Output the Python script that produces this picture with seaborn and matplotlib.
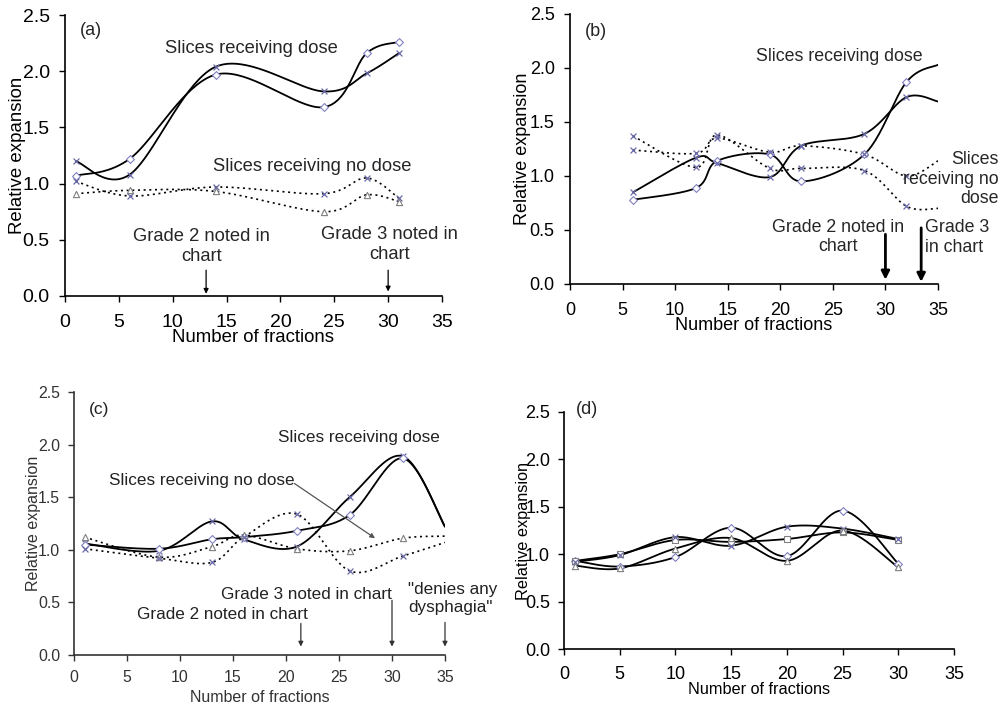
import numpy as np
import pandas as pd
import matplotlib
matplotlib.use("Agg")
import matplotlib.pyplot as plt
import seaborn as sns

sns.set_theme(style="white")
plt.rcParams['font.family'] = ['Liberation Sans', 'DejaVu Sans']

# ---------------- data ----------------
# Panel (a)
a_x = [1, 6, 14, 24, 28, 31]
a_dose_diamond = [1.07, 1.22, 1.97, 1.68, 2.16, 2.26]
a_dose_cross = [1.20, 1.08, 2.04, 1.82, 1.98, 2.16]
a_nodose_cross = [1.02, 0.89, 0.97, 0.91, 1.05, 0.87]
a_nodose_tri = [0.91, 0.94, 0.93, 0.75, 0.90, 0.84]

# Panel (b)
b_x = [6, 12, 14, 19, 22, 28, 32, 35]
b_dose_diamond = [0.78, 0.89, 1.14, 1.20, 0.95, 1.20, 1.87, 2.03]
b_dose_cross = [0.85, 1.17, 1.12, 0.99, 1.28, 1.39, 1.73, 1.69]
b_nodose_a = [1.37, 1.08, 1.38, 1.07, 1.07, 1.05, 0.72, 0.70]
b_nodose_b = [1.24, 1.21, 1.35, 1.22, 1.28, 1.20, 1.00, 1.14]

# Panel (c)
c_x = [1, 8, 13, 16, 21, 26, 31, 35]
c_dose_cross = [1.06, 0.99, 1.27, 1.10, 1.03, 1.50, 1.89, 1.22]
c_dose_diamond = [1.05, 1.01, 1.10, 1.12, 1.18, 1.33, 1.87, 1.22]
c_nodose_tri = [1.12, 0.93, 1.03, 1.14, 1.01, 0.99, 1.11, 1.13]
c_nodose_cross = [1.01, 0.92, 0.88, 1.12, 1.34, 0.80, 0.94, 1.07]

# Panel (d)
d_x = [1, 5, 10, 15, 20, 25, 30]
d_diamond = [0.93, 0.87, 0.97, 1.28, 0.98, 1.46, 0.90]
d_square = [0.93, 1.00, 1.15, 1.13, 1.16, 1.23, 1.15]
d_cross = [0.92, 0.99, 1.18, 1.09, 1.29, 1.27, 1.16]
d_tri = [0.88, 0.85, 1.06, 1.17, 0.93, 1.25, 0.86]

x_ticks = [0, 5, 10, 15, 20, 25, 30, 35]
y_ticks = [0.0, 0.5, 1.0, 1.5, 2.0, 2.5]
y_ticklabels = ["0.0", "0.5", "1.0", "1.5", "2.0", "2.5"]
x_label = "Number of fractions"
y_label = "Relative expansion"


def smooth(x, y, n=40):
    """Excel-like smoothed line (cubic Bezier through the points)."""
    P = np.column_stack([x, y]).astype(float)
    out = []
    for i in range(len(P) - 1):
        p0 = P[i - 1] if i > 0 else P[i]
        p1, p2 = P[i], P[i + 1]
        p3 = P[i + 2] if i + 2 < len(P) else P[i + 1]
        c1 = p1 + (p2 - p0) / 6.0
        c2 = p2 - (p3 - p1) / 6.0
        t = np.linspace(0, 1, n)[:, None]
        b = (1 - t) ** 3 * p1 + 3 * (1 - t) ** 2 * t * c1 + 3 * (1 - t) * t ** 2 * c2 + t ** 3 * p2
        out.append(b if i == 0 else b[1:])
    s = np.vstack(out)
    return pd.DataFrame({"x": s[:, 0], "y": s[:, 1]})


MK = {
    "D": dict(marker="D", s=16, facecolor="white", edgecolor="#8080c0", linewidth=0.8),
    "x": dict(marker="x", s=18, color="#6a6aa8", linewidth=0.9),
    "^": dict(marker="^", s=20, facecolor="white", edgecolor="#808080", linewidth=0.8),
    "s": dict(marker="s", s=16, facecolor="white", edgecolor="#808080", linewidth=0.8),
}


def series(ax, x, y, mk, dotted=False, color="black", lw=1.3):
    df = smooth(x, y)
    ls = (0, (1.2, 2.2)) if dotted else "-"
    sns.lineplot(data=df, x="x", y="y", sort=False, estimator=None, ax=ax,
                 color=color, linewidth=lw if not dotted else 1.2, linestyle=ls)
    pts = pd.DataFrame({"x": x, "y": y})
    pts = pts[pts["x"] < 35]
    sns.scatterplot(data=pts, x="x", y="y", ax=ax, zorder=3, legend=False, **MK[mk])


def style_axes(ax, tick_fs, lab_fs, col="black", xpad=9, ypad=6,
               ylab_x=-0.12, xlab_y=-0.15):
    ax.set_xlim(0, 35)
    ax.set_ylim(0, 2.5)
    ax.set_xticks(x_ticks)
    ax.set_yticks(y_ticks)
    ax.set_yticklabels(y_ticklabels)
    for sp in ["top", "right"]:
        ax.spines[sp].set_visible(False)
    for sp in ["left", "bottom"]:
        ax.spines[sp].set_color(col)
        ax.spines[sp].set_linewidth(1.2)
    ax.tick_params(axis="x", direction="out", length=4, width=1.0, color=col,
                   labelsize=tick_fs, labelcolor=col, pad=xpad, bottom=True)
    ax.tick_params(axis="y", direction="out", length=4, width=1.0, color=col,
                   labelsize=tick_fs, labelcolor=col, pad=ypad, left=True)
    ax.set_xlabel(x_label, fontsize=lab_fs, color=col)
    ax.set_ylabel(y_label, fontsize=lab_fs, color=col)
    ax.xaxis.label.set_va("center")
    ax.yaxis.label.set_va("center")
    ax.xaxis.set_label_coords(0.5, xlab_y)
    ax.yaxis.set_label_coords(ylab_x, 0.5)
    ax.grid(False)
    ax.set_facecolor("white")


W, H = 1000, 705
fig = plt.figure(figsize=(10, 7.05), dpi=100)
fig.patch.set_facecolor("white")


def px_axes(l, t, r, b):
    return fig.add_axes([l / W, 1 - b / H, (r - l) / W, (b - t) / H])


thin = dict(arrowstyle="-|>", color="black", lw=0.9, mutation_scale=7,
            shrinkA=0, shrinkB=0)

# ---------------- (a) ----------------
ax = px_axes(65, 15, 442, 296)
series(ax, a_x, a_dose_diamond, "D")
series(ax, a_x, a_dose_cross, "x")
series(ax, a_x, a_nodose_cross, "x", dotted=True)
series(ax, a_x, a_nodose_tri, "^", dotted=True)
style_axes(ax, 14, 13.4, xpad=9, ypad=7, ylab_x=-0.125, xlab_y=-0.149)
ax.text(2.4, 2.36, "(a)", fontsize=13, ha="center", va="center")
ax.text(17.3, 2.20, "Slices receiving dose", fontsize=13.2, ha="center", va="center")
ax.text(23.0, 1.15, "Slices receiving no dose", fontsize=13.2, ha="center", va="center")
ax.text(12.7, 0.44, "Grade 2 noted in\nchart", fontsize=13.2, ha="center",
        va="center", multialignment="center", linespacing=1.25)
ax.text(30.1, 0.46, "Grade 3 noted in\nchart", fontsize=13.2, ha="center",
        va="center", multialignment="center", linespacing=1.25)
ax.annotate("", xy=(13.1, 0.02), xytext=(13.1, 0.23), arrowprops=thin)
ax.annotate("", xy=(30.0, 0.04), xytext=(30.0, 0.23), arrowprops=thin)

# ---------------- (b) ----------------
ax = px_axes(570, 14, 938, 284)
series(ax, b_x, b_dose_diamond, "D")
series(ax, b_x, b_dose_cross, "x")
series(ax, b_x, b_nodose_a, "x", dotted=True)
series(ax, b_x, b_nodose_b, "x", dotted=True)
style_axes(ax, 13, 13, xpad=9, ypad=7, ylab_x=-0.128, xlab_y=-0.152)
ax.text(2.5, 2.34, "(b)", fontsize=13, ha="center", va="center")
ax.text(25.6, 2.11, "Slices receiving dose", fontsize=12.8, ha="center", va="center")
ax.text(40.8, 0.97, "Slices\nreceiving no\ndose", fontsize=12.8, ha="right",
        va="center", multialignment="right", linespacing=1.2)
ax.text(25.5, 0.435, "Grade 2 noted in\nchart", fontsize=12.8, ha="center",
        va="center", multialignment="center", linespacing=1.2)
ax.text(33.8, 0.43, "Grade 3\nin chart", fontsize=12.8, ha="left",
        va="center", multialignment="left", linespacing=1.2)
thick = dict(arrowstyle="-|>", color="black", lw=2.0, mutation_scale=12,
             shrinkA=0, shrinkB=0)
ax.annotate("", xy=(30.0, 0.04), xytext=(30.0, 0.46), arrowprops=thick)
ax.annotate("", xy=(33.4, 0.02), xytext=(33.4, 0.52), arrowprops=thick)

# ---------------- (c) ----------------
gcol = "#333333"
ax = px_axes(74, 392, 445, 655)
series(ax, c_x, c_dose_cross, "x")
series(ax, c_x, c_dose_diamond, "D")
series(ax, c_x, c_nodose_tri, "^", dotted=True)
series(ax, c_x, c_nodose_cross, "x", dotted=True)
style_axes(ax, 11.4, 11.5, col=gcol, xpad=7, ypad=6, ylab_x=-0.11, xlab_y=-0.16)
ax.text(2.4, 2.33, "(c)", fontsize=12.5, ha="center", va="center", color="#222222")
ax.text(26.9, 2.07, "Slices receiving dose", fontsize=12.3, ha="center",
        va="center", color="#222222")
ax.text(12.1, 1.66, "Slices receiving no dose", fontsize=12.3, ha="center",
        va="center", color="#222222")
ax.annotate("", xy=(28.4, 1.11), xytext=(20.8, 1.63),
            arrowprops=dict(arrowstyle="-|>", color="#555555", lw=0.9,
                            mutation_scale=7, shrinkA=0, shrinkB=0))
ax.text(21.9, 0.575, "Grade 3 noted in chart", fontsize=12.3, ha="center",
        va="center", color="#222222")
ax.text(14.0, 0.385, "Grade 2 noted in chart", fontsize=12.3, ha="center",
        va="center", color="#222222")
ax.text(31.5, 0.537, "\"denies any\ndysphagia\"", fontsize=12.3, ha="left",
        va="center", multialignment="left", linespacing=1.25, color="#222222")
gthin = dict(arrowstyle="-|>", color="#333333", lw=0.9, mutation_scale=7,
             shrinkA=0, shrinkB=0)
ax.annotate("", xy=(21.4, 0.08), xytext=(21.4, 0.30), arrowprops=gthin)
ax.annotate("", xy=(30.0, 0.08), xytext=(30.0, 0.52), arrowprops=gthin)
ax.annotate("", xy=(35.0, 0.08), xytext=(35.0, 0.31), arrowprops=gthin)

# ---------------- (d) ----------------
ax = px_axes(564, 412, 954, 649)
series(ax, d_x, d_diamond, "D")
series(ax, d_x, d_square, "s")
series(ax, d_x, d_cross, "x")
series(ax, d_x, d_tri, "^")
style_axes(ax, 13, 11.7, xpad=8, ypad=6, ylab_x=-0.105, xlab_y=-0.169)
ax.text(2.1, 2.53, "(d)", fontsize=13, ha="center", va="center")

fig.savefig("out.png", dpi=100, facecolor="white")
